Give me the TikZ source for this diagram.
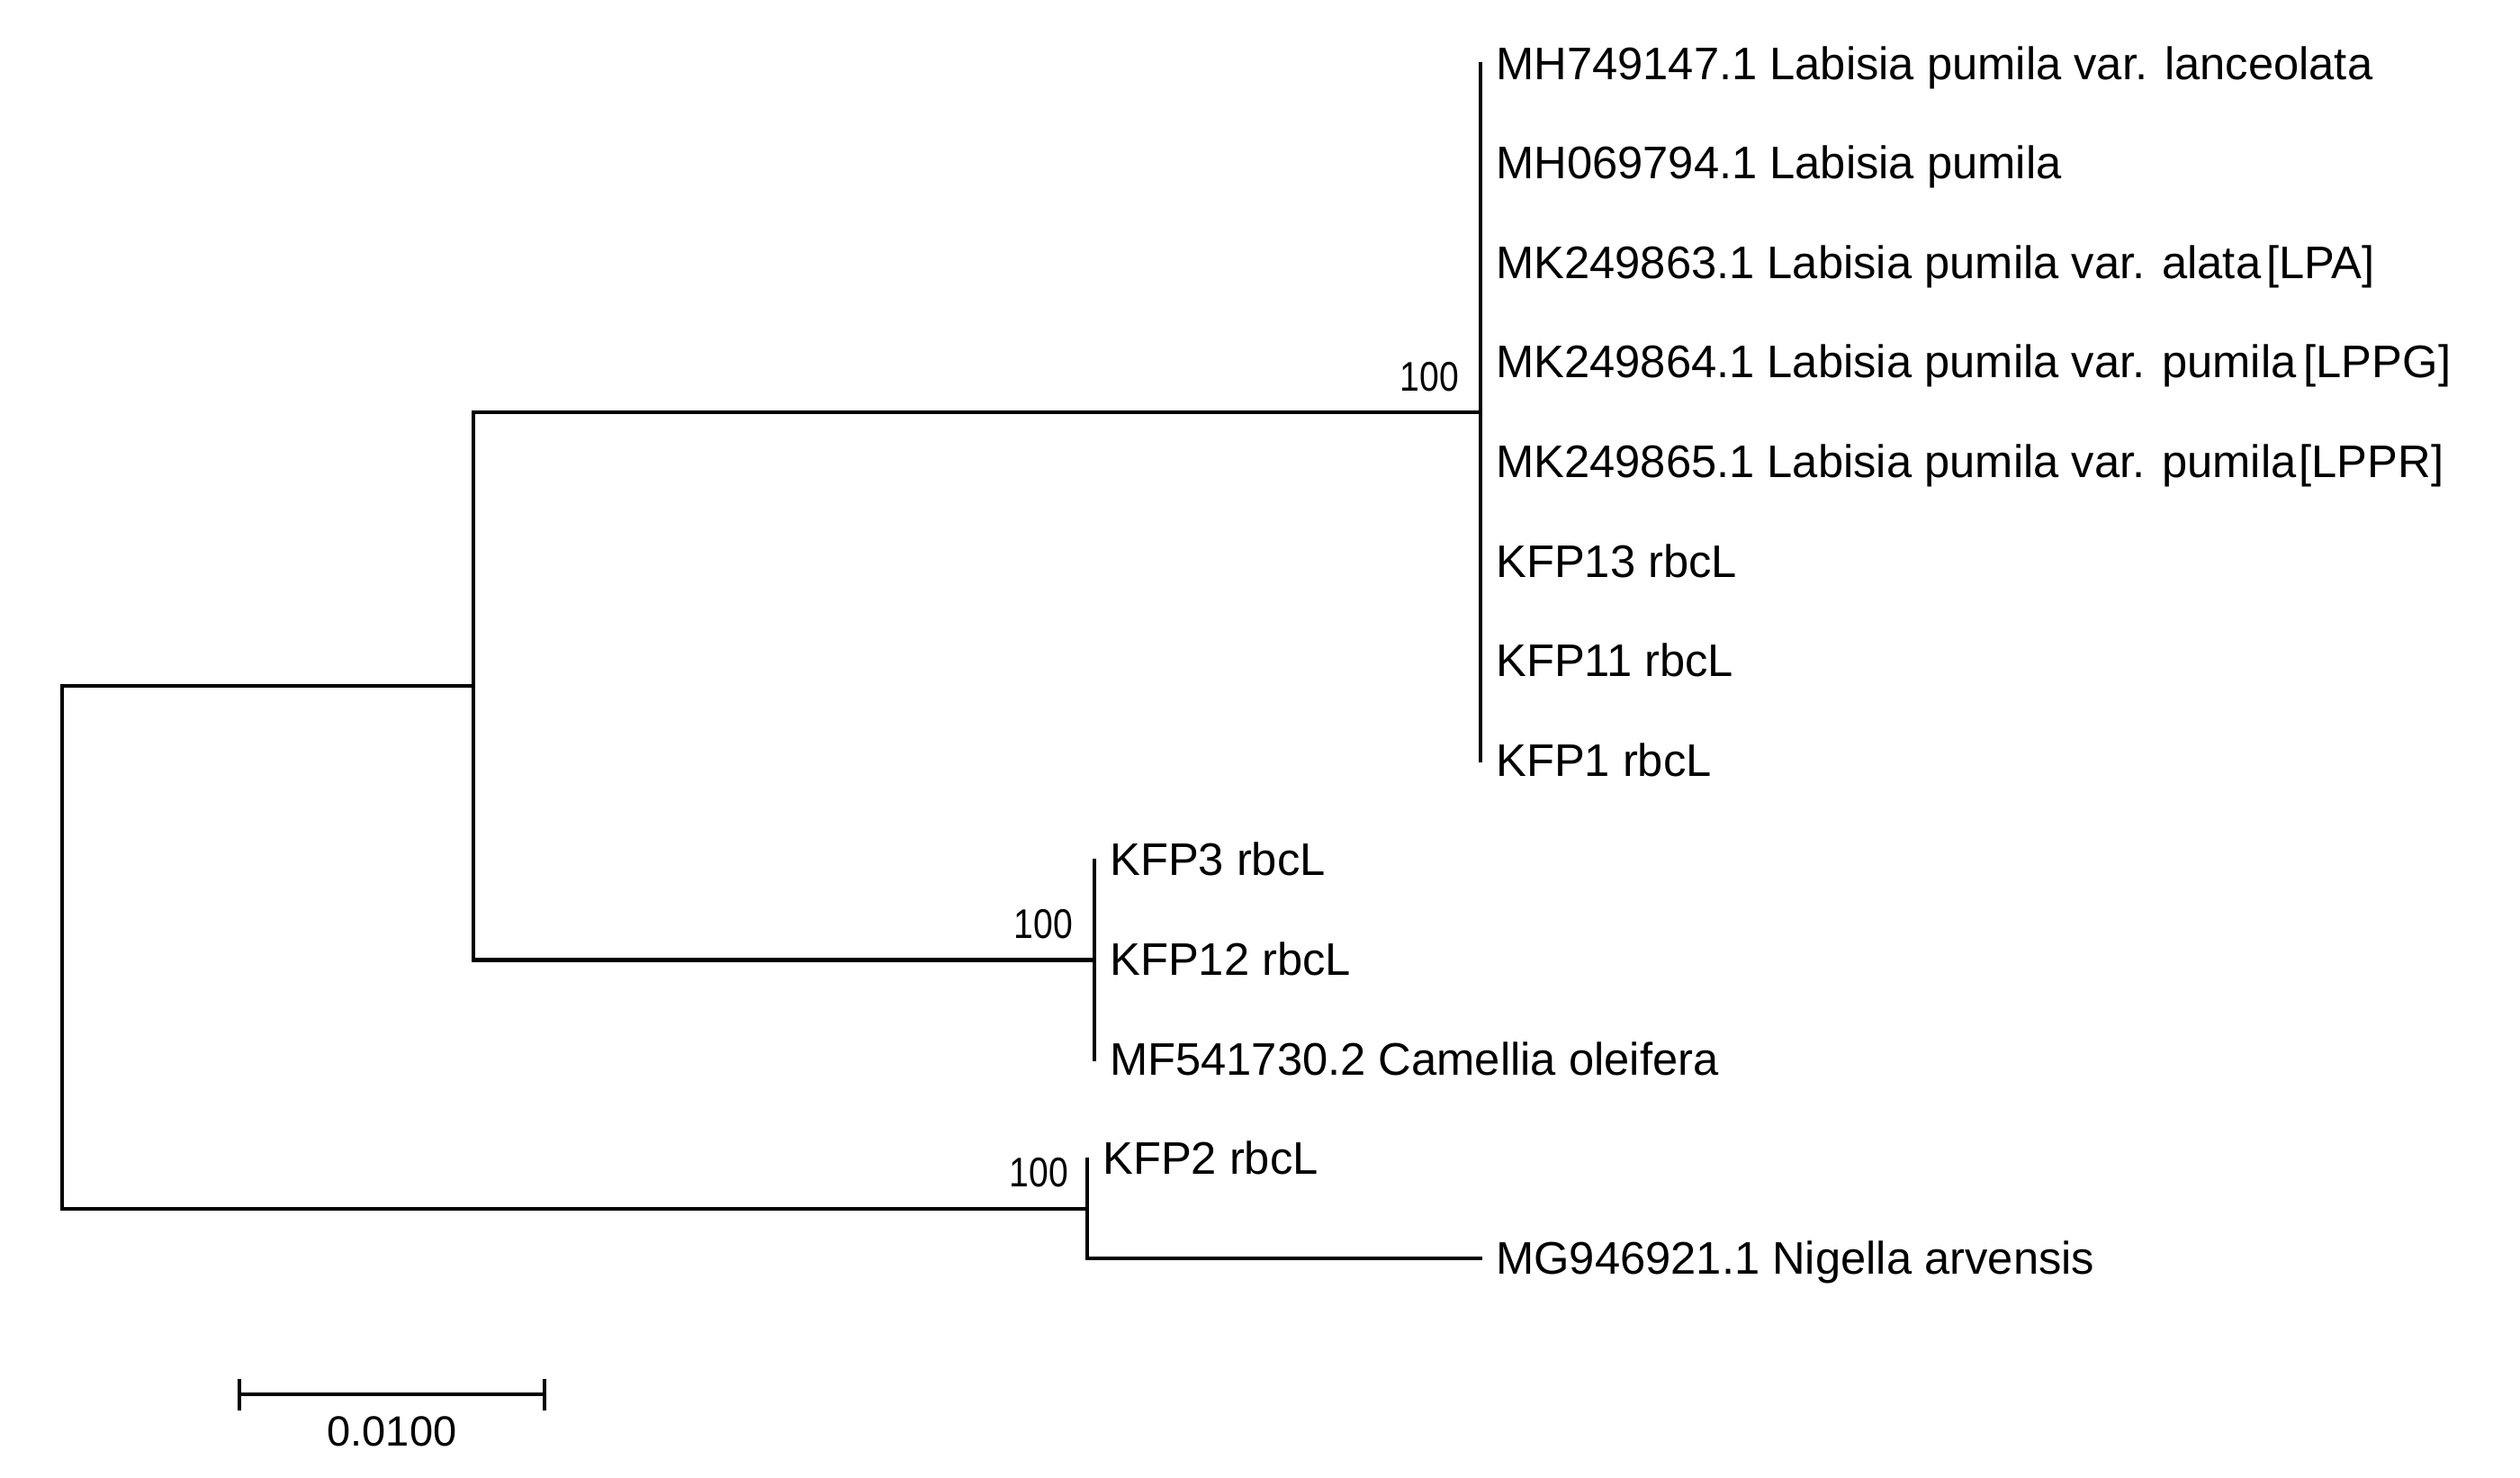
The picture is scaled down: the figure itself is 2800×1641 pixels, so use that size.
\documentclass[tikz,border=0pt]{standalone}
\usepackage{fontspec}
\usepackage{graphicx}
\setmainfont{Liberation Sans}
\begin{document}
\begin{tikzpicture}[x=1pt,y=-1pt,
  branch/.style={line width=4.2pt,black,line cap=rect,line join=miter},
  leaflab/.style={anchor=base west,inner sep=0pt,xshift=17pt,yshift=-17pt,font=\fontsize{50.7}{60}\selectfont},
  boot/.style={anchor=base east,inner sep=0pt,xshift=-24pt,yshift=24pt,font=\fontsize{46}{50}\selectfont},
  scalelab/.style={anchor=base,inner sep=0pt,font=\fontsize{47}{50}\selectfont}]
\useasboundingbox (0,0) rectangle (2800,1641);
% internal nodes
\coordinate (R) at (69,1052.6);
\coordinate (A) at (526,762.3);
\coordinate (L) at (1645,458.1);
\coordinate (C) at (1216,1066.4);
\coordinate (N) at (1208,1342.9);
% leaves
\coordinate (l0) at (1645,71);
\coordinate (l1) at (1645,181.6);
\coordinate (l2) at (1645,292.2);
\coordinate (l3) at (1645,402.8);
\coordinate (l4) at (1645,513.4);
\coordinate (l5) at (1645,624);
\coordinate (l6) at (1645,734.6);
\coordinate (l7) at (1645,845.2);
\coordinate (l8) at (1216,955.8);
\coordinate (l9) at (1216,1066.4);
\coordinate (l10) at (1216,1177);
\coordinate (l11) at (1208,1287.6);
\coordinate (l12) at (1645,1398.2);
% branches
\draw[branch] (R) |- (A);
\draw[branch] (R) |- (N);
\draw[branch] (A) |- (L);
\draw[branch] (A) |- (C);
\draw[branch] (l0) -- (l7);
\draw[branch] (l8) -- (l10);
\draw[branch] (l11) -- (N);
\draw[branch] (N) |- (l12);
% leaf labels
\node[leaflab] (t0) at (l0) {MH749147.1 Labisia pumila var. lanceolata};
\node[leaflab] (t1) at (l1) {MH069794.1 Labisia pumila};
\node[leaflab] (t2) at (l2) {MK249863.1 Labisia pumila var. alata\kern6pt[LPA]};
\node[leaflab] (t3) at (l3) {MK249864.1 Labisia pumila var. pumila\kern8pt[LPPG]};
\node[leaflab] (t4) at (l4) {MK249865.1 Labisia pumila var. pumila\kern3pt[LPPR]};
\node[leaflab] (t5) at (l5) {KFP13 rbcL};
\node[leaflab] (t6) at (l6) {KFP11 rbcL};
\node[leaflab] (t7) at (l7) {KFP1 rbcL};
\node[leaflab] (t8) at (l8) {KFP3 rbcL};
\node[leaflab] (t9) at (l9) {KFP12 rbcL};
\node[leaflab] (t10) at (l10) {MF541730.2 Camellia oleifera};
\node[leaflab] (t11) at (l11) {KFP2 rbcL};
\node[leaflab] (t12) at (l12) {MG946921.1 Nigella arvensis};
% bootstrap values
\node[boot] (bL) at (L) {\scalebox{0.85}[1]{100}};
\node[boot] (bC) at (C) {\scalebox{0.85}[1]{100}};
\node[boot,xshift=3pt] (bN) at (N) {\scalebox{0.85}[1]{100}};
% scale bar
\coordinate (s1) at (266,1549);
\coordinate (s2) at (605,1549);
\draw[branch,line cap=butt] (s1) -- (s2);
\draw[branch,line cap=butt] ([yshift=17pt]s1) -- ([yshift=-18pt]s1);
\draw[branch,line cap=butt] ([yshift=17pt]s2) -- ([yshift=-18pt]s2);
\node[scalelab] (sl) at (435.5,1606) {0.0100};
\end{tikzpicture}
\end{document}
